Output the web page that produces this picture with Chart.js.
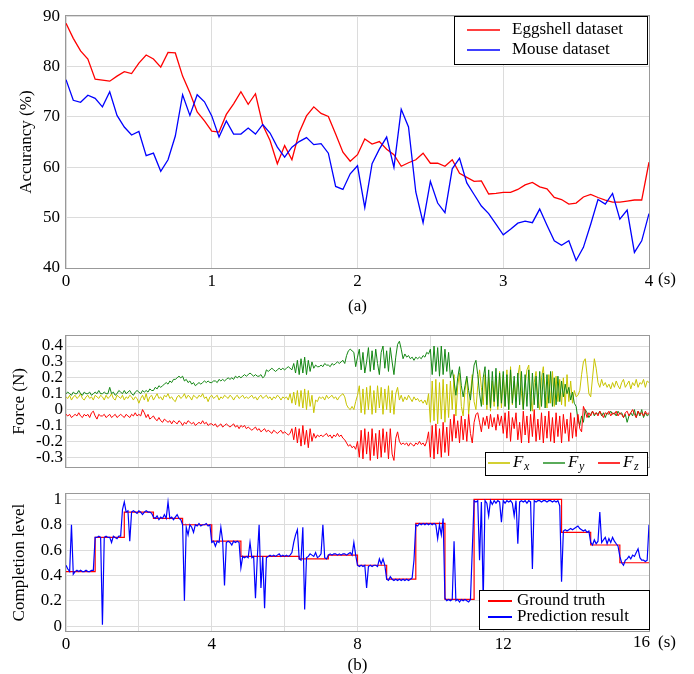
<!DOCTYPE html>
<html>
<head>
<meta charset="utf-8">
<script src="https://cdn.jsdelivr.net/npm/chart.js@4.4.1/dist/chart.umd.min.js"></script>
<style>
  html, body { margin: 0; padding: 0; background: #fff; }
  #page { position: relative; width: 694px; height: 674px; }
  #page canvas { position: absolute; left: 0; }
</style>
</head>
<body>
<div id="page">
  <canvas id="accChart" width="694" height="320" style="top:0"></canvas>
  <canvas id="forceChart" width="694" height="160" style="top:320px"></canvas>
  <canvas id="levelChart" width="694" height="194" style="top:480px"></canvas>
</div>
<script>
// ---------- (a) accuracy vs. observation time, sampled every 0.05 s ----------
const accStep = 0.05;
const eggshellAcc = [
  88.6,85.6,83.1,81.5,77.5,77.3,77.1,78.1,79.0,78.6,
  80.7,82.3,81.5,79.9,82.8,82.7,78.1,74.8,71.0,69.2,
  67.2,67.0,70.5,72.6,75.0,72.5,74.6,68.4,65.3,60.7,
  64.3,61.5,66.9,70.2,72.0,70.7,70.1,66.6,63.0,61.2,
  62.5,65.6,64.6,65.1,63.6,62.5,60.2,60.9,61.5,62.8,
  60.8,60.8,60.2,61.5,58.8,58.0,57.2,57.3,54.7,54.8,
  55.0,55.0,55.6,56.5,57.0,56.1,55.7,54.0,53.6,52.7,
  52.9,54.1,54.6,54.0,53.5,53.1,53.1,53.3,53.5,53.5,
  61.0
];
const mouseAcc = [
  77.4,73.3,72.9,74.3,73.7,72.0,75.0,70.3,68.0,66.4,
  67.1,62.3,62.8,59.2,61.5,66.2,74.4,70.3,74.4,73.0,
  70.2,66.0,69.2,66.6,66.6,67.8,66.6,68.5,66.8,64.0,
  62.0,64.0,65.1,65.9,64.5,64.7,62.8,56.2,55.6,58.7,
  60.3,52.0,60.7,63.6,66.0,60.0,71.5,68.0,55.1,49.0,
  57.2,52.9,51.0,59.7,61.8,56.9,54.6,52.3,50.8,48.7,
  46.6,47.7,48.9,49.3,49.0,51.7,48.5,45.4,44.5,45.4,
  41.5,44.1,48.7,53.6,52.7,54.8,49.7,51.5,43.1,45.4,
  50.8
];

// ---------- (b) contact forces, sampled every 0.05 s ----------
const forceStep = 0.05;
const forceX = [
  0.08,0.07,0.09,0.06,0.08,0.09,0.07,0.08,0.10,0.07,0.06,0.08,0.09,0.07,0.08,0.06,0.09,0.08,0.07,0.09,
  0.08,0.06,0.09,0.07,0.08,0.10,0.07,0.06,0.09,0.08,0.07,0.09,0.06,0.08,0.07,0.09,0.08,0.06,0.08,0.07,
  0.04,0.07,0.09,0.06,0.10,0.05,0.08,0.09,0.06,0.08,0.10,0.07,0.08,0.06,0.09,0.08,0.10,0.07,0.08,0.06,
  0.05,0.08,0.09,0.07,0.08,0.10,0.07,0.09,0.08,0.06,0.09,0.08,0.07,0.09,0.08,0.10,0.07,0.08,0.05,0.08,
  0.09,0.07,0.08,0.09,0.06,0.08,0.07,0.09,0.08,0.07,0.09,0.08,0.06,0.08,0.09,0.07,0.08,0.09,0.07,0.08,
  0.07,0.08,0.09,0.07,0.08,0.06,0.08,0.09,0.07,0.08,0.09,0.07,0.08,0.06,0.08,0.07,0.09,0.08,0.06,0.08,
  0.07,0.08,0.06,0.10,0.04,0.11,0.03,0.12,0.02,0.12,0.01,0.13,0.00,0.12,0.02,0.09,-0.02,0.06,0.05,0.08,
  0.07,0.08,0.06,0.09,0.07,0.08,0.09,0.07,0.08,0.06,0.08,0.09,0.10,0.08,0.03,0.01,0.00,0.02,0.00,0.05,
  0.09,0.15,-0.02,0.13,-0.03,0.14,0.00,0.15,-0.03,0.12,-0.02,0.15,0.01,0.14,-0.03,0.13,0.00,0.15,-0.02,0.12,
  -0.03,0.10,0.14,0.06,0.09,0.05,0.08,0.06,0.09,0.07,0.05,0.08,0.06,0.07,0.05,0.06,0.04,0.06,0.03,0.10,
  -0.08,0.18,-0.07,0.19,-0.09,0.17,-0.06,0.19,-0.08,0.16,-0.05,0.18,0.00,0.22,-0.04,0.15,0.23,0.02,-0.04,0.12,
  0.20,-0.03,0.10,0.22,0.05,0.00,0.15,0.25,0.14,0.03,0.22,0.00,0.20,-0.01,0.18,0.02,0.21,0.00,0.24,0.01,
  0.22,0.02,0.25,0.00,0.27,0.03,0.18,0.05,0.21,0.28,0.10,0.00,0.15,0.25,0.28,0.08,-0.01,0.17,0.24,0.06,
  0.00,0.20,0.27,0.12,0.01,0.22,0.04,0.24,0.02,0.21,0.05,0.19,0.03,0.20,0.02,0.22,0.05,0.18,0.04,0.12,
  0.08,0.09,0.12,0.22,0.30,0.32,0.22,0.10,0.08,0.20,0.32,0.26,0.17,0.14,0.19,0.15,0.17,0.14,0.16,0.13,
  0.17,0.14,0.18,0.15,0.13,0.17,0.19,0.14,0.16,0.18,0.13,0.17,0.15,0.19,0.14,0.17,0.16,0.19,0.14,0.18,0.17
];
const forceY = [
  0.10,0.11,0.10,0.09,0.11,0.10,0.10,0.12,0.10,0.09,0.11,0.10,0.10,0.11,0.09,0.10,0.11,0.10,0.12,0.10,
  0.10,0.11,0.10,0.10,0.14,0.10,0.11,0.09,0.10,0.12,0.11,0.10,0.12,0.10,0.11,0.12,0.10,0.09,0.11,0.12,
  0.11,0.10,0.12,0.11,0.12,0.11,0.13,0.12,0.12,0.14,0.13,0.15,0.14,0.15,0.16,0.17,0.16,0.18,0.17,0.19,
  0.19,0.20,0.21,0.20,0.21,0.18,0.19,0.17,0.18,0.16,0.17,0.15,0.16,0.17,0.16,0.17,0.18,0.17,0.18,0.17,
  0.17,0.18,0.18,0.17,0.19,0.18,0.19,0.18,0.19,0.20,0.19,0.20,0.19,0.21,0.20,0.21,0.20,0.21,0.22,0.21,
  0.22,0.23,0.22,0.21,0.22,0.21,0.21,0.22,0.20,0.21,0.25,0.24,0.25,0.26,0.25,0.24,0.25,0.26,0.25,0.26,
  0.25,0.26,0.27,0.26,0.25,0.29,0.23,0.31,0.22,0.32,0.23,0.33,0.22,0.31,0.24,0.30,0.26,0.28,0.27,0.27,
  0.28,0.27,0.29,0.28,0.28,0.27,0.29,0.28,0.29,0.30,0.29,0.30,0.31,0.29,0.34,0.37,0.38,0.37,0.36,0.27,
  0.33,0.38,0.25,0.36,0.23,0.30,0.39,0.24,0.37,0.25,0.38,0.29,0.22,0.36,0.40,0.26,0.37,0.24,0.39,0.30,
  0.22,0.33,0.41,0.43,0.38,0.32,0.35,0.33,0.34,0.32,0.33,0.31,0.33,0.32,0.33,0.32,0.34,0.33,0.36,0.35,
  0.38,0.22,0.40,0.24,0.39,0.21,0.40,0.22,0.38,0.24,0.36,0.20,0.25,0.18,0.09,0.20,0.27,0.15,0.08,0.15,
  0.21,0.12,0.06,0.18,0.28,0.31,0.22,0.10,0.02,0.20,0.27,0.03,0.25,0.01,0.24,0.05,0.26,0.02,0.23,0.04,
  0.24,0.02,0.22,0.00,0.25,0.04,0.21,0.01,0.23,0.03,0.24,0.00,0.22,0.02,0.25,-0.01,0.23,0.03,0.21,0.01,
  0.24,0.02,0.23,0.01,0.22,0.04,0.24,0.02,0.20,0.03,0.21,0.05,0.18,0.08,0.16,0.10,0.14,0.06,0.11,0.04,
  0.02,-0.06,-0.10,-0.04,-0.08,0.00,-0.02,-0.05,-0.03,-0.01,-0.04,-0.02,-0.03,-0.01,-0.04,-0.02,-0.05,-0.02,-0.03,-0.01,
  -0.03,-0.02,-0.04,-0.01,-0.03,-0.02,-0.05,-0.03,-0.08,-0.04,-0.02,-0.04,0.00,-0.05,-0.01,-0.04,0.00,-0.05,-0.02,-0.04,-0.03
];
const forceZ = [
  -0.03,-0.04,-0.03,-0.05,-0.04,-0.03,-0.04,-0.02,-0.04,-0.05,-0.03,-0.04,-0.03,-0.05,-0.02,-0.01,-0.04,-0.06,-0.03,-0.04,
  -0.04,-0.03,-0.05,-0.04,-0.03,-0.05,-0.04,-0.03,-0.05,-0.04,-0.03,-0.04,-0.05,-0.03,-0.04,-0.05,-0.03,-0.04,-0.02,-0.04,
  -0.03,-0.04,0.00,-0.02,-0.05,-0.03,-0.06,-0.05,-0.04,-0.06,-0.07,-0.05,-0.07,-0.08,-0.06,-0.07,-0.08,-0.07,-0.09,-0.07,
  -0.08,-0.09,-0.07,-0.08,-0.10,-0.08,-0.09,-0.07,-0.08,-0.09,-0.08,-0.10,-0.09,-0.08,-0.09,-0.07,-0.09,-0.08,-0.10,-0.09,
  -0.09,-0.10,-0.09,-0.11,-0.10,-0.09,-0.11,-0.10,-0.09,-0.10,-0.11,-0.10,-0.09,-0.11,-0.10,-0.12,-0.10,-0.11,-0.10,-0.12,
  -0.11,-0.12,-0.13,-0.12,-0.11,-0.13,-0.12,-0.14,-0.13,-0.12,-0.14,-0.13,-0.14,-0.15,-0.13,-0.14,-0.15,-0.14,-0.13,-0.15,
  -0.14,-0.15,-0.16,-0.15,-0.12,-0.19,-0.11,-0.21,-0.12,-0.23,-0.10,-0.22,-0.13,-0.24,-0.12,-0.20,-0.15,-0.18,-0.16,-0.17,
  -0.16,-0.17,-0.16,-0.15,-0.17,-0.16,-0.18,-0.16,-0.17,-0.15,-0.17,-0.16,-0.18,-0.19,-0.21,-0.23,-0.22,-0.24,-0.23,-0.25,
  -0.20,-0.30,-0.13,-0.31,-0.12,-0.28,-0.14,-0.32,-0.12,-0.29,-0.15,-0.31,-0.13,-0.30,-0.12,-0.27,-0.14,-0.31,-0.12,-0.28,
  -0.32,-0.18,-0.14,-0.20,-0.22,-0.21,-0.22,-0.21,-0.23,-0.21,-0.22,-0.23,-0.21,-0.22,-0.20,-0.22,-0.21,-0.23,-0.20,-0.14,
  -0.30,-0.10,-0.31,-0.09,-0.28,-0.12,-0.30,-0.08,-0.27,-0.11,-0.29,-0.06,-0.20,-0.03,-0.18,-0.07,-0.21,-0.04,-0.19,-0.06,
  -0.20,-0.03,-0.15,-0.21,-0.08,-0.03,-0.02,-0.08,-0.14,-0.05,-0.10,-0.04,-0.12,-0.03,-0.11,-0.05,-0.13,-0.03,-0.10,-0.04,
  -0.15,-0.02,-0.18,-0.01,-0.20,-0.05,-0.12,-0.02,-0.19,-0.08,-0.21,-0.01,-0.16,-0.04,-0.21,-0.03,-0.17,0.00,-0.20,-0.06,
  -0.19,-0.02,-0.21,-0.04,-0.18,-0.01,-0.20,-0.05,-0.21,-0.02,-0.17,-0.04,-0.21,-0.03,-0.15,-0.06,-0.20,-0.02,-0.18,-0.05,
  -0.17,-0.03,-0.12,-0.14,0.02,-0.01,-0.05,-0.02,-0.04,-0.01,-0.03,-0.02,-0.04,-0.01,-0.03,-0.05,-0.02,-0.03,-0.01,-0.04,
  -0.02,-0.03,-0.01,-0.04,-0.02,-0.03,-0.05,-0.02,-0.01,-0.04,-0.02,0.00,-0.03,-0.05,-0.01,-0.03,-0.02,-0.04,-0.01,-0.03,-0.02
];
const forceTicks = [-0.3, -0.2, -0.1, 0, 0.1, 0.2, 0.3, 0.4];

// ---------- (b) completion level ----------
const truthTimes  = [0, 0.8, 1.6, 2.4, 3.2, 4.0, 4.8, 5.6, 6.4, 7.2, 8.0, 8.8, 9.6, 10.4, 11.2, 12.0, 12.8, 13.6, 14.4, 15.2, 16.0];
const truthLevels = [0.43, 0.70, 0.90, 0.85, 0.80, 0.67, 0.55, 0.55, 0.53, 0.56, 0.48, 0.37, 0.81, 0.21, 1.00, 1.00, 1.00, 0.74, 0.64, 0.50, 0.50];
const predStep = 0.05;
const predLevels = [
  0.48,0.45,0.43,0.80,0.41,0.43,0.44,0.43,0.44,0.43,0.43,0.44,0.43,0.43,0.44,0.44,0.70,0.70,0.71,0.70,
  0.01,0.70,0.71,0.70,0.70,0.66,0.71,0.70,0.69,0.71,0.71,0.92,0.98,0.90,0.91,0.67,0.90,0.91,0.90,0.89,
  0.91,0.90,0.88,0.90,0.91,0.90,0.90,0.89,0.86,0.85,0.87,0.84,0.86,0.85,0.88,0.85,0.98,0.85,0.86,0.84,
  0.86,0.88,0.85,0.84,0.80,0.20,0.78,0.72,0.80,0.78,0.74,0.80,0.79,0.81,0.79,0.80,0.80,0.81,0.79,0.80,
  0.66,0.67,0.63,0.67,0.66,0.78,0.67,0.32,0.66,0.67,0.66,0.64,0.67,0.66,0.67,0.66,0.46,0.55,0.54,0.55,
  0.54,0.66,0.54,0.55,0.22,0.54,0.80,0.30,0.55,0.14,0.54,0.55,0.56,0.55,0.56,0.55,0.56,0.57,0.55,0.56,
  0.55,0.56,0.55,0.56,0.58,0.66,0.72,0.76,0.53,0.52,0.78,0.13,0.54,0.55,0.57,0.56,0.55,0.58,0.54,0.55,
  0.57,0.80,0.54,0.53,0.56,0.57,0.56,0.57,0.57,0.56,0.57,0.56,0.57,0.57,0.56,0.57,0.58,0.56,0.66,0.56,
  0.48,0.47,0.48,0.47,0.48,0.30,0.47,0.48,0.47,0.48,0.48,0.47,0.53,0.49,0.53,0.48,0.37,0.36,0.39,0.37,
  0.36,0.37,0.36,0.37,0.36,0.37,0.36,0.37,0.36,0.37,0.38,0.52,0.80,0.79,0.81,0.80,0.81,0.80,0.81,0.80,
  0.81,0.80,0.81,0.80,0.69,0.80,0.72,0.85,0.22,0.20,0.21,0.20,0.21,0.67,0.20,0.21,0.19,0.21,0.20,0.21,
  0.20,0.19,0.21,0.60,0.99,0.98,0.99,0.52,0.98,0.20,0.99,0.97,0.87,0.99,0.96,0.99,0.97,0.99,0.98,0.82,
  0.99,0.97,0.99,0.98,0.99,0.97,0.87,0.99,0.65,0.98,0.99,0.98,0.99,0.97,0.99,0.98,0.45,0.99,0.98,0.99,
  0.99,0.98,0.99,0.99,0.98,0.99,0.99,0.98,0.99,0.98,0.99,0.95,0.35,0.75,0.76,0.75,0.76,0.77,0.76,0.77,
  0.78,0.79,0.77,0.76,0.75,0.76,0.74,0.75,0.66,0.64,0.68,0.65,0.67,0.90,0.66,0.68,0.70,0.65,0.69,0.66,
  0.70,0.67,0.65,0.63,0.55,0.50,0.48,0.52,0.53,0.55,0.53,0.56,0.55,0.58,0.61,0.54,0.52,0.52,0.51,0.52,0.80
];
const levelTicks = [0, 0.2, 0.4, 0.6, 0.8, 1];

// ---------- shared styling ----------
const SERIF = "'Liberation Serif', 'Times New Roman', Times, serif";
Chart.defaults.font.family = SERIF;
Chart.defaults.font.size = 17;
Chart.defaults.color = '#000';
Chart.defaults.animation = false;

const gridColor = '#dcdcdc';
const frameColor = '#999999';
const RED = 'rgb(255,0,0)';
const BLUE = 'rgb(0,0,255)';
const GREEN = 'rgb(20,135,20)';
const YELLOW = 'rgb(200,196,0)';

const sampled = (values, step) => values.map((v, i) => ({ x: +(i * step).toFixed(3), y: v }));
const paired = (xs, ys) => xs.map((x, i) => ({ x, y: ys[i] }));
const fmtTick = v => (Math.abs(v) < 1e-9 ? '0' : String(+v.toFixed(1)));

// full rectangle round the plotting area
const framePlugin = {
  id: 'frame',
  afterDatasetsDraw(chart) {
    const { ctx, chartArea: a } = chart;
    ctx.save();
    ctx.strokeStyle = frameColor;
    ctx.lineWidth = 1;
    ctx.strokeRect(Math.round(a.left) - 0.5, Math.round(a.top) - 0.5,
                   Math.round(a.right - a.left) + 1, Math.round(a.bottom - a.top) + 1);
    ctx.restore();
  }
};

// text with an optional italic subscript written as "F_x"
function drawLegendText(ctx, text, x, y, size) {
  ctx.textBaseline = 'middle';
  ctx.textAlign = 'left';
  ctx.fillStyle = '#000';
  if (text.includes('_')) {
    const [main, sub] = text.split('_');
    ctx.font = `italic ${size}px ${SERIF}`;
    ctx.fillText(main, x, y);
    const w = ctx.measureText(main).width;
    ctx.font = `italic ${Math.round(size * 0.72)}px ${SERIF}`;
    ctx.fillText(sub, x + w + 0.5, y + 4);
  } else {
    ctx.font = `${size}px ${SERIF}`;
    ctx.fillText(text, x, y);
  }
}

// boxed legend with line samples
const boxLegend = {
  id: 'boxLegend',
  afterDraw(chart, args, opts) {
    if (!opts || !opts.box) return;
    const ctx = chart.ctx;
    const [bx, by, bw, bh] = opts.box;
    ctx.save();
    ctx.fillStyle = '#fff';
    ctx.fillRect(bx, by, bw, bh);
    ctx.strokeStyle = '#000';
    ctx.lineWidth = 1;
    ctx.strokeRect(bx + 0.5, by + 0.5, bw, bh);
    opts.items.forEach(it => {
      const ds = chart.data.datasets[it.dataset];
      ctx.globalAlpha = it.alpha || 1;
      ctx.strokeStyle = ds.borderColor;
      ctx.lineWidth = opts.lineWidth || 1.5;
      ctx.beginPath();
      ctx.moveTo(it.x1, it.y);
      ctx.lineTo(it.x2, it.y);
      ctx.stroke();
      ctx.globalAlpha = 1;
      drawLegendText(ctx, ds.label, it.tx, it.y, opts.fontSize || 17);
    });
    ctx.restore();
  }
};

// unit "(s)" after the last time tick, plus an optional last tick label set left
const axisUnit = {
  id: 'axisUnit',
  afterDraw(chart, args, opts) {
    if (!opts || !opts.text) return;
    const { ctx } = chart;
    const xs = chart.scales.x;
    const px = xs.getPixelForValue(xs.max);
    const y = chart.chartArea.bottom + (opts.padding || 3);
    ctx.save();
    ctx.font = `17px ${SERIF}`;
    ctx.fillStyle = '#000';
    ctx.textBaseline = 'top';
    if (opts.lastLabel) {
      ctx.textAlign = 'right';
      ctx.fillText(opts.lastLabel, px + 1, y);
    }
    ctx.textAlign = 'left';
    ctx.fillText(opts.text, px + 9, y);
    ctx.restore();
  }
};

const plugins = [framePlugin, boxLegend, axisUnit];
const line = (label, data, color, width) => ({
  label, data, borderColor: color, backgroundColor: color,
  borderWidth: width, pointRadius: 0, tension: 0, fill: false
});

// ---------- (a) ----------
new Chart(document.getElementById('accChart'), {
  type: 'line',
  data: {
    datasets: [
      line('Mouse dataset', sampled(mouseAcc, accStep), BLUE, 1.3),
      line('Eggshell dataset', sampled(eggshellAcc, accStep), RED, 1.3)
    ]
  },
  options: {
    responsive: false,
    layout: { padding: { top: 14, right: 45, left: 0, bottom: 0 } },
    plugins: {
      legend: { display: false },
      tooltip: { enabled: false },
      boxLegend: {
        box: [454, 16, 193, 48], lineWidth: 1.5,
        items: [
          { dataset: 1, x1: 467, x2: 500, y: 30, tx: 512 },
          { dataset: 0, x1: 467, x2: 500, y: 50, tx: 512 }
        ]
      },
      axisUnit: { text: '(s)', padding: 3 }
    },
    scales: {
      x: {
        type: 'linear', min: 0, max: 4,
        ticks: { stepSize: 1, padding: 3, maxRotation: 0, autoSkip: false },
        grid: { color: gridColor, drawTicks: false },
        border: { display: false },
        title: { display: true, text: '(a)', padding: { top: 0, bottom: 3 } },
        afterFit: s => { s.height = 52; }
      },
      y: {
        min: 40, max: 90,
        ticks: { stepSize: 10, padding: 6, autoSkip: false },
        grid: { color: gridColor, drawTicks: false },
        border: { display: false },
        title: { display: true, text: 'Accurancy (%)', padding: { top: 16, bottom: 0 } },
        afterFit: s => { s.width = 66; }
      }
    }
  },
  plugins
});

// ---------- (b) forces ----------
new Chart(document.getElementById('forceChart'), {
  type: 'line',
  data: {
    datasets: [
      line('F_z', sampled(forceZ, forceStep), RED, 1),
      line('F_y', sampled(forceY, forceStep), GREEN, 1),
      line('F_x', sampled(forceX, forceStep), YELLOW, 1)
    ]
  },
  options: {
    responsive: false,
    layout: { padding: { top: 16, right: 45, left: 0, bottom: 0 } },
    plugins: {
      legend: { display: false },
      tooltip: { enabled: false },
      boxLegend: {
        box: [485, 132, 162, 23], lineWidth: 2,
        items: [
          { dataset: 2, x1: 488, x2: 510, y: 143, tx: 513, alpha: 0.8 },
          { dataset: 1, x1: 543, x2: 565, y: 143, tx: 568, alpha: 0.7 },
          { dataset: 0, x1: 598, x2: 620, y: 143, tx: 623, alpha: 0.8 }
        ]
      }
    },
    scales: {
      x: {
        type: 'linear', min: 0, max: 16,
        ticks: { stepSize: 2, display: false },
        grid: { color: gridColor, drawTicks: false },
        border: { display: false },
        afterFit: s => { s.height = 3; }
      },
      y: {
        min: -0.36, max: 0.463,
        afterBuildTicks: s => { s.ticks = forceTicks.map(v => ({ value: v })); },
        ticks: { padding: 3, autoSkip: false, callback: v => fmtTick(v) },
        grid: { color: gridColor, drawTicks: false },
        border: { display: false },
        title: { display: true, text: 'Force (N)', padding: { top: 9, bottom: 0 } },
        afterFit: s => { s.width = 66; }
      }
    }
  },
  plugins
});

// ---------- (b) completion level ----------
new Chart(document.getElementById('levelChart'), {
  type: 'line',
  data: {
    datasets: [
      line('Prediction result', sampled(predLevels, predStep), BLUE, 1.2),
      Object.assign(line('Ground truth', paired(truthTimes, truthLevels), RED, 1.2), { stepped: 'before' })
    ]
  },
  options: {
    responsive: false,
    layout: { padding: { top: 11, right: 45, left: 0, bottom: 0 } },
    plugins: {
      legend: { display: false },
      tooltip: { enabled: false },
      boxLegend: {
        box: [479, 110, 170, 39], lineWidth: 2,
        items: [
          { dataset: 1, x1: 488, x2: 512, y: 121, tx: 517 },
          { dataset: 0, x1: 488, x2: 512, y: 137, tx: 517 }
        ]
      },
      axisUnit: { text: '(s)', lastLabel: '16', padding: 3 }
    },
    scales: {
      x: {
        type: 'linear', min: 0, max: 16,
        ticks: {
          stepSize: 2, padding: 3, maxRotation: 0, autoSkip: false,
          callback: v => (v % 4 === 0 && v !== 16 ? String(v) : '')
        },
        grid: { color: gridColor, drawTicks: false },
        border: { display: false },
        title: { display: true, text: '(b)', font: { lineHeight: 1 }, padding: { top: 0, bottom: 0 } },
        afterFit: s => { s.height = 43; }
      },
      y: {
        min: -0.039, max: 1.041,
        afterBuildTicks: s => { s.ticks = levelTicks.map(v => ({ value: v })); },
        ticks: { padding: 4, autoSkip: false, callback: v => fmtTick(v) },
        grid: { color: gridColor, drawTicks: false },
        border: { display: false },
        title: { display: true, text: 'Completion level', padding: { top: 9, bottom: 0 } },
        afterFit: s => { s.width = 66; }
      }
    }
  },
  plugins
});
</script>
</body>
</html>
